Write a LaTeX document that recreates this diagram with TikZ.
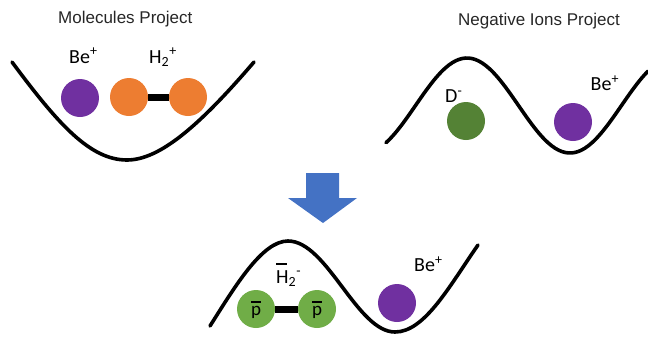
\documentclass[tikz,border=0pt]{standalone}
\usepackage{fontspec}
\setmainfont{Carlito}
\newfontfamily\titlefont{Liberation Sans}
\definecolor{bepurple}{HTML}{7030A0}
\definecolor{horange}{HTML}{ED7D31}
\definecolor{dgreen}{HTML}{548235}
\definecolor{lgreen}{HTML}{70AD47}
\definecolor{arrowblue}{HTML}{4472C4}
\newcommand\barchar[2]{\leavevmode\rlap{\raisebox{#2}{\rule{0.52em}{1.8pt}}}#1}
\begin{document}
\begin{tikzpicture}[x=1pt,y=-1pt,
  well/.style={line width=3.6pt,line cap=round},
  ion/.style={circle,inner sep=0pt,minimum size=38pt},
  bond/.style={line width=7pt},
  title/.style={font=\titlefont\fontsize{17}{20}\selectfont,anchor=base west,inner sep=0pt,text=black!85},
  lbl/.style={font=\fontsize{20}{24}\selectfont,anchor=base west,inner sep=0pt}]
\useasboundingbox (0,0) rectangle (648,338);
% titles
\node[title] (t1) at (58,23.3) {Molecules Project};
\node[title] (t2) at (458,25) {Negative Ions Project};
% top-left well
\draw[well] (12,62) .. controls (58,124) and (90,160) .. (127,160) .. controls (160,160) and (200,125) .. (254,62);
\node[ion,fill=bepurple] (be1) at (80,98) {};
\node[ion,fill=horange] (h1) at (129,97) {};
\node[ion,fill=horange] (h2) at (188,97) {};
\draw[bond] (h1) -- (h2);
\node[lbl] (lbe1) at (69,63.3) {Be\textsuperscript{+}};
\node[lbl] (lh2) at (149,63.3) {H\textsubscript{2}\textsuperscript{+}};
% top-right well
\draw[well] plot[domain=386:648,samples=80,smooth] (\x,{105.5+47.5*cos((\x-570)/103*180)});
\node[ion,fill=dgreen] (d1) at (466,121) {};
\node[ion,fill=bepurple] (be2) at (573,122) {};
\node[lbl] (ld) at (445,102.7) {D\textsuperscript{-}};
\node[lbl] (lbe2) at (590.5,90.7) {Be\textsuperscript{+}};
% arrow
\fill[arrowblue] (306,173) -- (339,173) -- (339,198) -- (357,198) -- (323,223) -- (288,198) -- (306,198) -- cycle;
% bottom well
\draw[well] (210,326) .. controls (235,286.5) and (262,241) .. (288,241) .. controls (327,241) and (357,332) .. (395,332) .. controls (425,332) and (450,285) .. (478,245);
\node[ion,fill=lgreen] (p1) at (256,309) {};
\node[ion,fill=lgreen] (p2) at (317,309) {};
\draw[bond] (p1) -- (p2);
\node[lbl,anchor=base,font=\fontsize{19}{22}\selectfont] (lp1) at (256,315) {\barchar{p}{0.62em}};
\node[lbl,anchor=base,font=\fontsize{19}{22}\selectfont] (lp2) at (317,315) {\barchar{p}{0.62em}};
\node[ion,fill=bepurple] (be3) at (397,303) {};
\node[lbl] (lh2m) at (276,283.3) {\barchar{H}{0.92em}\textsubscript{2}\textsuperscript{-}};
\node[lbl] (lbe3) at (414,271.7) {Be\textsuperscript{+}};
\end{tikzpicture}
\end{document}
